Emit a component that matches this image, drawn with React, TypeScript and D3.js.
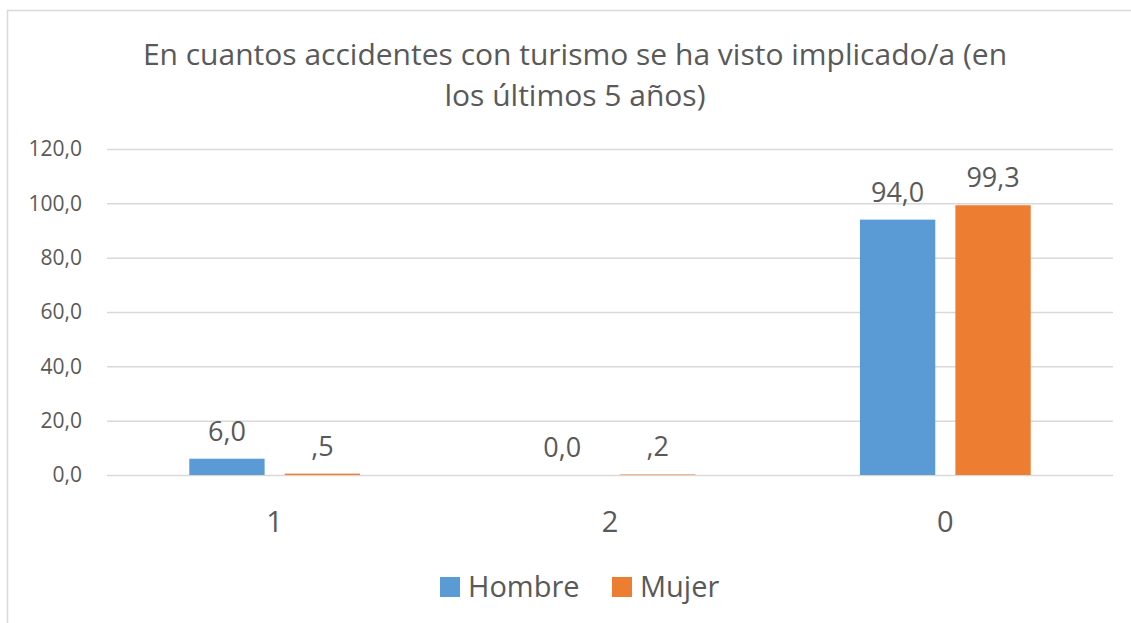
import * as React from "react";
import * as d3 from "d3";

const categories = ["1", "2", "0"];
const seriesNames = ["Hombre", "Mujer"];
const hombreValues = [6.0, 0.0, 94.0];
const mujerValues = [0.5, 0.2, 99.3];
const hombreLabels = ["6,0", "0,0", "94,0"];
const mujerLabels = [",5", ",2", "99,3"];
const yTicks = [0, 20, 40, 60, 80, 100, 120];
const titleLines = [
  "En cuantos accidentes con turismo se ha visto implicado/a (en",
  "los últimos 5 años)",
];

const colors = ["#5B9BD5", "#ED7D31"];
const textColor = "#595959";
const font = '"Open Sans", "Noto Sans", sans-serif';

function drawChart(svgRef) {
  const svg = d3.select(svgRef.current);
  svg.selectAll("*").remove();

  const width = 1131;
  const height = 623;
  const left = 107;
  const right = 1113;
  const top = 149;
  const bottom = 475;

  // chart area border (runs off the right and bottom edge)
  svg
    .append("rect")
    .attr("x", 7.5)
    .attr("y", 10.5)
    .attr("width", width + 20)
    .attr("height", height + 20)
    .attr("fill", "#fff")
    .attr("stroke", "#D9D9D9")
    .attr("stroke-width", 1.5);

  // title
  svg
    .append("g")
    .selectAll("text")
    .data(titleLines)
    .enter()
    .append("text")
    .attr("x", 575)
    .attr("y", (_d, i) => 65 + i * 41)
    .attr("text-anchor", "middle")
    .attr("font-family", font)
    .attr("font-size", 30)
    .attr("fill", textColor)
    .text((d) => d);

  const x = d3.scaleBand().domain(categories).range([left, right]);
  const y = d3.scaleLinear().domain([0, 120]).range([bottom, top]);

  const yAxis = d3
    .axisLeft(y)
    .tickValues(yTicks)
    .tickSize(left - right)
    .tickPadding(25)
    .tickFormat((d) => d3.format(".1f")(d).replace(".", ","));

  const gy = svg
    .append("g")
    .attr("transform", `translate(${left},0)`)
    .call(yAxis);
  gy.select(".domain").remove();
  gy.selectAll(".tick line").attr("stroke", "#D9D9D9").attr("stroke-width", 1.5);
  gy.selectAll(".tick text")
    .attr("font-family", font)
    .attr("font-size", 21)
    .attr("fill", textColor);

  const bw = x.bandwidth();
  const barW = bw * 0.2246;
  const innerGap = bw * 0.06;
  const offset = (i) => bw / 2 + (i === 0 ? -innerGap / 2 - barW : innerGap / 2);

  const series = [hombreValues, mujerValues];
  const labels = [hombreLabels, mujerLabels];

  series.forEach((values, s) => {
    const rows = categories.map((c, i) => ({ c, v: values[i], label: labels[s][i] }));
    const g = svg.append("g");
    g.selectAll("rect")
      .data(rows)
      .enter()
      .append("rect")
      .attr("x", (d) => x(d.c) + offset(s))
      .attr("y", (d) => y(d.v))
      .attr("width", barW)
      .attr("height", (d) => bottom - y(d.v))
      .attr("fill", colors[s]);
    g.selectAll("text")
      .data(rows)
      .enter()
      .append("text")
      .attr("x", (d) => x(d.c) + offset(s) + barW / 2)
      .attr("y", (d) => y(d.v) - 18)
      .attr("text-anchor", "middle")
      .attr("font-family", font)
      .attr("font-size", 27)
      .attr("fill", textColor)
      .text((d) => d.label);
  });

  // category labels
  svg
    .append("g")
    .selectAll("text")
    .data(categories)
    .enter()
    .append("text")
    .attr("x", (d) => x(d) + bw / 2)
    .attr("y", 532)
    .attr("text-anchor", "middle")
    .attr("font-family", font)
    .attr("font-size", 29)
    .attr("fill", textColor)
    .text((d) => d);

  // legend
  const legendX = [440, 612];
  const legend = svg
    .append("g")
    .selectAll("g")
    .data(seriesNames)
    .enter()
    .append("g")
    .attr("transform", (_d, i) => `translate(${legendX[i]},577)`);
  legend
    .append("rect")
    .attr("width", 20)
    .attr("height", 20)
    .attr("fill", (_d, i) => colors[i]);
  legend
    .append("text")
    .attr("x", 28)
    .attr("y", 20)
    .attr("font-family", font)
    .attr("font-size", 29)
    .attr("fill", textColor)
    .text((d) => d);
}

export default function App() {
  const svg = React.useRef(null);
  React.useEffect(() => {
    drawChart(svg);
  }, [svg]);

  return (
    <svg
      ref={svg}
      width={1131}
      height={623}
      style={{ position: "absolute", left: 0, top: 0 }}
    />
  );
}
